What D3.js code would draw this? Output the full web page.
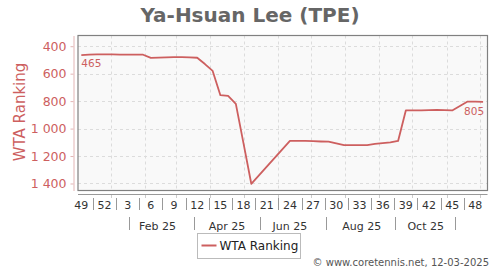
<!DOCTYPE html>
<html>
<head>
<meta charset="utf-8">
<script src="https://cdn.jsdelivr.net/npm/d3@7"></script>
<style>
  body { margin: 0; background: #fff; }
  text { font-family: "DejaVu Sans", sans-serif; }
</style>
</head>
<body>
<div id="chart"></div>
<script>
// weekly WTA ranking, one value per week starting Thu 5 Dec 2024 (null = no ranking published)
const firstWeek = new Date(Date.UTC(2024, 11, 5));
const weeklyRanks = [465, 462, 460, 460, 460, 461, 462, 462, 462,
    485, 483, 482, 480, 480, 482, 484, 530, 580, 757, 762, 820, 1110, 1402,
    null, null, null, null,
    1090, 1090, 1090, 1092, 1094, 1095, 1108, 1120, 1121, 1121, 1120, 1112, 1106, 1100, 1090,
    868, 868, 868, 866, 864, 866, 868, 835, 803, 803, 805];

const weekLabels = ['49', '52', '3', '6', '9', '12', '15', '18', '21', '24', '27', '30', '33', '36', '39', '42', '45', '48'];
const monthLabels = ['Feb 25', 'Apr 25', 'Jun 25', 'Aug 25', 'Oct 25'];
const monthLabelDates = ['2025-02-12', '2025-04-16', '2025-06-12', '2025-08-16', '2025-10-13'];
const monthSeparators = ['2025-01-17', '2025-03-17', '2025-05-16', '2025-07-15', '2025-09-15', '2025-11-09'];
const yTicks = [400, 600, 800, 1000, 1200, 1400];

const svgWidth = 500;
const svgHeight = 270;
const plot = { left: 78, right: 487.5, top: 35.5, bottom: 190.5 };
const lineColor = '#cd5f5f';

const svg = d3.select('#chart')
    .append('svg')
    .attr('width', svgWidth)
    .attr('height', svgHeight);

const data = weeklyRanks.map((v, i) => ({
    date: d3.utcDay.offset(firstWeek, i * 7),
    rank: v
}));

// scales
const x = d3.scaleUtc()
    .domain([new Date(Date.UTC(2024, 11, 2)), new Date(Date.UTC(2025, 11, 8))])
    .range([plot.left, plot.right]);

const y = d3.scaleLinear()
    .domain([322, 1451])
    .range([plot.top, plot.bottom]);

const fmt = d3.formatLocale({ decimal: '.', thousands: ' ', grouping: [3], currency: ['', ''] }).format(',d');

// title
svg.append('text')
    .attr('x', 250)
    .attr('y', 21.5)
    .attr('text-anchor', 'middle')
    .attr('font-size', 20)
    .attr('font-weight', 'bold')
    .attr('fill', '#666')
    .text('Ya-Hsuan Lee (TPE)');

// plot background
svg.append('rect')
    .attr('x', plot.left)
    .attr('y', plot.top)
    .attr('width', plot.right - plot.left)
    .attr('height', plot.bottom - plot.top)
    .attr('fill', '#f9f9f9');

// grid
const months = d3.utcMonth.range(new Date(Date.UTC(2025, 0, 1)), new Date(Date.UTC(2025, 11, 2)));
svg.append('g')
    .selectAll('line')
    .data(months)
    .join('line')
    .attr('x1', d => Math.round(x(d)) + 0.5)
    .attr('x2', d => Math.round(x(d)) + 0.5)
    .attr('y1', plot.top)
    .attr('y2', plot.bottom)
    .attr('stroke', '#dcdcdc')
    .attr('stroke-dasharray', '3,3');

svg.append('g')
    .selectAll('line')
    .data(yTicks)
    .join('line')
    .attr('x1', plot.left)
    .attr('x2', plot.right)
    .attr('y1', d => Math.round(y(d)) + 0.5)
    .attr('y2', d => Math.round(y(d)) + 0.5)
    .attr('stroke', '#dcdcdc')
    .attr('stroke-dasharray', '3,3');

// plot border
svg.append('rect')
    .attr('x', plot.left)
    .attr('y', plot.top)
    .attr('width', plot.right - plot.left)
    .attr('height', plot.bottom - plot.top)
    .attr('fill', 'none')
    .attr('stroke', '#808080')
    .attr('stroke-width', 1.2);

// y axis
const yAxis = svg.append('g')
    .attr('transform', 'translate(73.5,0)')
    .call(d3.axisLeft(y).tickValues(yTicks).tickFormat(fmt).tickSize(3).tickPadding(4).tickSizeOuter(0));
yAxis.select('.domain').attr('stroke', '#e3b5b5');
yAxis.selectAll('.tick line').attr('stroke', '#e3b5b5');
yAxis.selectAll('.tick text')
    .attr('fill', lineColor)
    .attr('font-size', 12.5)
    .attr('font-family', '"DejaVu Sans", sans-serif');

svg.append('text')
    .attr('transform', 'translate(25,112) rotate(-90)')
    .attr('text-anchor', 'middle')
    .attr('font-size', 15)
    .attr('fill', lineColor)
    .text('WTA Ranking');

// x axis line with month ticks
svg.append('line')
    .attr('x1', plot.left)
    .attr('x2', plot.right)
    .attr('y1', 194.5)
    .attr('y2', 194.5)
    .attr('stroke', '#999');

svg.append('g')
    .selectAll('line')
    .data(months)
    .join('line')
    .attr('x1', d => Math.round(x(d)) + 0.5)
    .attr('x2', d => Math.round(x(d)) + 0.5)
    .attr('y1', 195)
    .attr('y2', 198)
    .attr('stroke', '#ccc');

// week number row
const weekPos = i => x(d3.utcDay.offset(firstWeek, i * 21));
svg.append('g')
    .selectAll('text')
    .data(weekLabels)
    .join('text')
    .attr('x', (d, i) => weekPos(i))
    .attr('y', 208.5)
    .attr('text-anchor', 'middle')
    .attr('font-size', 11)
    .attr('fill', '#333')
    .text(d => d);

svg.append('g')
    .selectAll('line')
    .data(weekLabels.slice(1))
    .join('line')
    .attr('x1', (d, i) => Math.round((weekPos(i) + weekPos(i + 1)) / 2) + 0.5)
    .attr('x2', (d, i) => Math.round((weekPos(i) + weekPos(i + 1)) / 2) + 0.5)
    .attr('y1', 198)
    .attr('y2', 210)
    .attr('stroke', '#999');

// month row
svg.append('g')
    .selectAll('text')
    .data(monthLabels)
    .join('text')
    .attr('x', (d, i) => x(new Date(monthLabelDates[i])))
    .attr('y', 229.5)
    .attr('text-anchor', 'middle')
    .attr('font-size', 11)
    .attr('fill', '#333')
    .text(d => d);

svg.append('g')
    .selectAll('line')
    .data(monthSeparators)
    .join('line')
    .attr('x1', d => Math.round(x(new Date(d))) + 0.5)
    .attr('x2', d => Math.round(x(new Date(d))) + 0.5)
    .attr('y1', 217)
    .attr('y2', 230)
    .attr('stroke', '#999');

// ranking line
const line = d3.line()
    .x(d => x(d.date))
    .y(d => y(d.rank));

svg.append('path')
    .datum(data.filter(d => d.rank !== null))
    .attr('d', line)
    .attr('fill', 'none')
    .attr('stroke', lineColor)
    .attr('stroke-width', 1.8)
    .attr('stroke-linejoin', 'round');

// first and last value labels
const first = data[0];
const last = data[data.length - 1];
svg.append('text')
    .attr('x', x(first.date))
    .attr('y', y(first.rank) + 12)
    .attr('font-size', 10.5)
    .attr('fill', lineColor)
    .text(first.rank);
svg.append('text')
    .attr('x', x(last.date) + 1)
    .attr('y', y(last.rank) + 13)
    .attr('text-anchor', 'end')
    .attr('font-size', 10.5)
    .attr('fill', lineColor)
    .text(last.rank);

// legend
const legend = svg.append('g').attr('transform', 'translate(197.5,233.5)');
legend.append('rect')
    .attr('width', 103)
    .attr('height', 25)
    .attr('fill', '#fff')
    .attr('stroke', '#bbb');
legend.append('line')
    .attr('x1', 4)
    .attr('x2', 19)
    .attr('y1', 12)
    .attr('y2', 12)
    .attr('stroke', lineColor)
    .attr('stroke-width', 2);
legend.append('text')
    .attr('x', 22)
    .attr('y', 16.5)
    .attr('font-size', 12)
    .attr('fill', '#222')
    .text('WTA Ranking');

// credit
svg.append('text')
    .attr('x', 489)
    .attr('y', 265.5)
    .attr('text-anchor', 'end')
    .attr('font-size', 10)
    .attr('fill', '#555')
    .text('© www.coretennis.net, 12-03-2025');
</script>
</body>
</html>
